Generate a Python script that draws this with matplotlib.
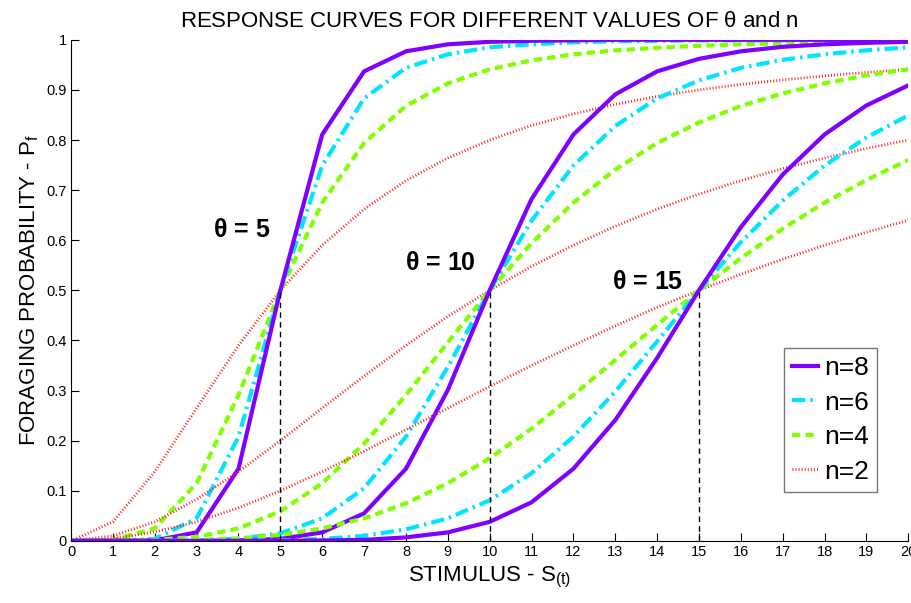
import numpy as np
import matplotlib.pyplot as plt
from matplotlib.lines import Line2D

plt.rcParams['font.family'] = ['Liberation Sans', 'DejaVu Sans']
plt.rcParams['mathtext.default'] = 'regular'

# stimulus values
s = np.arange(0, 21)

# response values, theta = 5
t5_n8 = [0, 0.000, 0.001, 0.017, 0.144, 0.5, 0.811, 0.937, 0.977, 0.991, 0.996,
         0.998, 0.999, 1.0, 1.0, 1.0, 1.0, 1.0, 1.0, 1.0, 1.0]
t5_n6 = [0, 0.000, 0.004, 0.045, 0.208, 0.5, 0.749, 0.883, 0.944, 0.971, 0.985,
         0.991, 0.995, 0.997, 0.998, 0.999, 0.999, 0.999, 1.0, 1.0, 1.0]
t5_n4 = [0, 0.002, 0.025, 0.115, 0.291, 0.5, 0.675, 0.794, 0.868, 0.913, 0.941,
         0.959, 0.971, 0.979, 0.984, 0.988, 0.991, 0.993, 0.994, 0.995, 0.996]
t5_n2 = [0, 0.038, 0.138, 0.265, 0.390, 0.5, 0.590, 0.662, 0.719, 0.764, 0.800,
         0.829, 0.852, 0.871, 0.887, 0.900, 0.911, 0.920, 0.928, 0.935, 0.941]

# theta = 10
t10_n8 = [0, 0, 0.000, 0.000, 0.001, 0.004, 0.017, 0.055, 0.144, 0.301, 0.5,
          0.682, 0.811, 0.891, 0.937, 0.962, 0.977, 0.986, 0.991, 0.994, 0.996]
t10_n6 = [0, 0, 0.000, 0.001, 0.004, 0.015, 0.045, 0.105, 0.208, 0.347, 0.5,
          0.639, 0.749, 0.828, 0.883, 0.919, 0.944, 0.960, 0.971, 0.979, 0.985]
t10_n4 = [0, 0.000, 0.002, 0.008, 0.025, 0.059, 0.115, 0.194, 0.291, 0.396, 0.5,
          0.594, 0.675, 0.741, 0.794, 0.835, 0.868, 0.893, 0.913, 0.929, 0.941]
t10_n2 = [0, 0.010, 0.038, 0.083, 0.138, 0.200, 0.265, 0.329, 0.390, 0.448, 0.5,
          0.548, 0.590, 0.628, 0.662, 0.692, 0.719, 0.743, 0.764, 0.783, 0.800]

# theta = 15
t15_n8 = [0, 0, 0, 0, 0.000, 0.000, 0.001, 0.002, 0.007, 0.017, 0.038,
          0.077, 0.144, 0.241, 0.365, 0.5, 0.626, 0.731, 0.811, 0.869, 0.909]
t15_n6 = [0, 0, 0.000, 0.000, 0.000, 0.001, 0.004, 0.010, 0.023, 0.045, 0.081,
          0.135, 0.208, 0.298, 0.398, 0.5, 0.596, 0.679, 0.749, 0.805, 0.849]
t15_n4 = [0, 0.000, 0.000, 0.002, 0.005, 0.012, 0.025, 0.045, 0.075, 0.115, 0.165,
          0.224, 0.291, 0.361, 0.431, 0.5, 0.564, 0.623, 0.675, 0.720, 0.760]
t15_n2 = [0, 0.004, 0.018, 0.038, 0.066, 0.100, 0.138, 0.179, 0.222, 0.265, 0.308,
          0.350, 0.390, 0.429, 0.466, 0.5, 0.532, 0.562, 0.590, 0.616, 0.640]

thetas = [5, 10, 15]
theta_labels = [r'$\theta$ = 5', r'$\theta$ = 10', r'$\theta$ = 15']
legend_labels = ['n=8', 'n=6', 'n=4', 'n=2']

fig = plt.figure(figsize=(9.11, 6.03), dpi=100)
ax = fig.add_axes([0.078, 0.103, 0.919, 0.831])

purple = '#7f00ff'
cyan = '#00e5ff'
green = '#80ff00'
red = '#ff1a1a'
dot = (0, (0.35, 0.75))
dashdot = (0, (3.2, 1.2, 0.6, 1.2))
dash = (0, (2.0, 1.2))

for a, b, c, d in [(t5_n8, t5_n6, t5_n4, t5_n2),
                   (t10_n8, t10_n6, t10_n4, t10_n2),
                   (t15_n8, t15_n6, t15_n4, t15_n2)]:
    ax.plot(s, d, color=red, lw=2.0, ls=dot)
    ax.plot(s, c, color=green, lw=3.0, ls=dash)
    ax.plot(s, b, color=cyan, lw=3.0, ls=dashdot)
    ax.plot(s, a, color=purple, lw=3.0)

# dashed threshold markers
ax.vlines(thetas, 0, 0.5, colors='black', linestyles=(0, (4, 3)), lw=1.0)

ax.text(3.38, 0.62, theta_labels[0], fontsize=18, fontweight='bold', va='center')
ax.text(7.98, 0.555, theta_labels[1], fontsize=18, fontweight='bold', va='center')
ax.text(12.93, 0.517, theta_labels[2], fontsize=18, fontweight='bold', va='center')

handles = [Line2D([], [], color=purple, lw=3.0),
           Line2D([], [], color=cyan, lw=3.0, ls=dashdot),
           Line2D([], [], color=green, lw=3.0, ls=dash),
           Line2D([], [], color=red, lw=2.0, ls=dot)]
leg = ax.legend(handles, legend_labels, loc='center', bbox_to_anchor=(0.907, 0.2415),
                fontsize=19, fancybox=False, framealpha=1, edgecolor='#777777',
                handlelength=1.0, handletextpad=0.22, labelspacing=0.4, borderpad=0.3)

ax.set_xlim(0, 20)
ax.set_ylim(0, 1)
ax.set_xticks(range(0, 21))
ax.set_yticks(np.arange(0, 1.01, 0.1))
ax.set_yticklabels(['0', '0.1', '0.2', '0.3', '0.4', '0.5', '0.6', '0.7', '0.8', '0.9', '1'])
ax.tick_params(direction='in', length=6, labelsize=10.5, colors='black', pad=3)
ax.spines['top'].set_visible(False)
ax.spines['right'].set_visible(False)

ax.set_title(r'RESPONSE CURVES FOR DIFFERENT VALUES OF $\theta$ and n', fontsize=16, pad=9)
ax.set_xlabel('STIMULUS - S$_{(t)}$', fontsize=16, labelpad=4)
ax.set_ylabel('FORAGING PROBABILITY - P$_f$', fontsize=16, labelpad=4)

fig.savefig('out.png', dpi=100)
